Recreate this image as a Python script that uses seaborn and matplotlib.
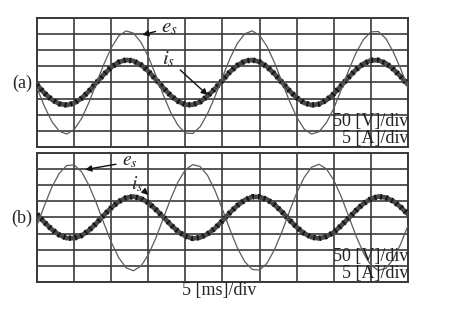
import numpy as np
import pandas as pd
import matplotlib
matplotlib.use("Agg")
import matplotlib.pyplot as plt
import seaborn as sns

# ---------------- data ----------------
time_ms = list(range(0, 51))  # 10 divisions x 5 ms

# panel (a): voltage e_s [V] and current i_s [A], in phase
es_a = [-17, -74, -121, -151, -160, -146, -112, -62, -3, 56,
        107, 144, 160, 153, 125, 80, 23, -37, -92, -133,
        -157, -158, -137, -96, -43, 17, 74, 121, 151, 160,
        146, 112, 62, 3, -56, -107, -144, -160, -153, -125,
        -80, -23, 37, 92, 133, 157, 158, 137, 96, 43, -17]
is_a = [-0.7, -3.3, -5.3, -6.6, -7.0, -6.4, -4.9, -2.7, -0.1, 2.5,
        4.7, 6.3, 7.0, 6.7, 5.5, 3.5, 1.0, -1.6, -4.0, -5.8,
        -6.9, -6.9, -6.0, -4.2, -1.9, 0.7, 3.3, 5.3, 6.6, 7.0,
        6.4, 4.9, 2.7, 0.1, -2.5, -4.7, -6.3, -7.0, -6.7, -5.5,
        -3.5, -1.0, 1.6, 4.0, 5.8, 6.9, 6.9, 6.0, 4.2, 1.9, -0.7]

# panel (b): current in anti-phase with voltage
es_b = [-25, 37, 94, 137, 161, 163, 142, 100, 45, -17,
        -76, -124, -156, -165, -151, -116, -65, -4, 57, 110,
        148, 164, 158, 130, 83, 25, -37, -94, -137, -161,
        -163, -142, -100, -45, 17, 76, 124, 156, 165, 151,
        116, 65, 4, -57, -110, -148, -164, -158, -130, -83, -25]
is_b = [1.0, -1.5, -3.7, -5.4, -6.4, -6.4, -5.6, -4.0, -1.8, 0.7,
        3.0, 4.9, 6.1, 6.5, 5.9, 4.6, 2.5, 0.2, -2.2, -4.3,
        -5.8, -6.5, -6.2, -5.1, -3.3, -1.0, 1.5, 3.7, 5.4, 6.4,
        6.4, 5.6, 4.0, 1.8, -0.7, -3.0, -4.9, -6.1, -6.5, -5.9,
        -4.6, -2.5, -0.2, 2.2, 4.3, 5.8, 6.5, 6.2, 5.1, 3.3, 1.0]

V_PER_DIV = 50
A_PER_DIV = 5
MS_PER_DIV = 5
panel_labels = ["(a)", "(b)"]
volt_scale_text = "50 [V]/div"
amp_scale_text = "5 [A]/div"
time_scale_text = "5 [ms]/div"

# ---------------- style ----------------
sns.set_style("white")
plt.rcParams["font.family"] = ["Liberation Serif", "DejaVu Serif"]
plt.rcParams["mathtext.fontset"] = "stix"

GRID_C = "#3a3a3a"
VOLT_C = "#5c5c5c"

fig = plt.figure(figsize=(4.5, 3.19), dpi=100)
ax_a = fig.add_axes([0.0822, 0.5392, 0.8244, 0.4044])
ax_b = fig.add_axes([0.0822, 0.1160, 0.8244, 0.4044])


def draw_panel(ax, es, cur):
    df = pd.DataFrame({"t": time_ms,
                       "e": np.array(es) / V_PER_DIV,
                       "i": np.array(cur) / A_PER_DIV})
    # current: thick fuzzy trace
    sns.lineplot(data=df, x="t", y="i", ax=ax, color="#4a4a4a",
                 linewidth=3.4, zorder=3)
    sns.lineplot(data=df, x="t", y="i", ax=ax, color="#151515",
                 linewidth=4.0, linestyle=(0, (0.35, 0.7)), zorder=4)
    # voltage: thin trace
    sns.lineplot(data=df, x="t", y="e", ax=ax, color=VOLT_C,
                 linewidth=0.9, zorder=5)
    ax.set_xlim(0, 10 * MS_PER_DIV)
    ax.set_ylim(-4, 4)
    ax.set_xticks(np.arange(0, 10 * MS_PER_DIV + 1, MS_PER_DIV))
    ax.set_yticks(np.arange(-4, 5, 1))
    ax.grid(True, color=GRID_C, linewidth=1.2)
    ax.tick_params(length=0, labelbottom=False, labelleft=False)
    ax.set_xlabel("")
    ax.set_ylabel("")
    for sp in ax.spines.values():
        sp.set_color(GRID_C)
        sp.set_linewidth(1.4)
    ax.text(1.0, 0.195, volt_scale_text, transform=ax.transAxes,
            ha="right", va="center", fontsize=13, color="#222222", zorder=6)
    ax.text(1.0, 0.065, amp_scale_text, transform=ax.transAxes,
            ha="right", va="center", fontsize=13, color="#222222", zorder=6)


draw_panel(ax_a, es_a, is_a)
draw_panel(ax_b, es_b, is_b)

arrow = dict(arrowstyle="-|>", color="#111111", lw=1.0, mutation_scale=9,
             shrinkA=2, shrinkB=0)
ax_a.annotate("$e_s$", xy=(14.2, 2.95), xytext=(17.9, 3.4), fontsize=15,
              ha="center", va="center", arrowprops=arrow, zorder=7)
ax_a.annotate("$i_s$", xy=(23.0, -0.78), xytext=(17.7, 1.45), fontsize=15,
              ha="center", va="center", arrowprops=arrow, zorder=7)
ax_b.annotate("$e_s$", xy=(6.5, 2.97), xytext=(12.5, 3.45), fontsize=14,
              ha="center", va="center", arrowprops=arrow, zorder=7)
ax_b.annotate("$i_s$", xy=(15.0, 1.4), xytext=(13.5, 2.05), fontsize=14,
              ha="center", va="center", arrowprops=arrow, zorder=7)

fig.text(0.049, 0.740, panel_labels[0], ha="center", va="center", fontsize=13)
fig.text(0.049, 0.317, panel_labels[1], ha="center", va="center", fontsize=13)
fig.text(0.487, 0.088, time_scale_text, ha="center", va="center", fontsize=13)

fig.savefig("out.png", dpi=100)
